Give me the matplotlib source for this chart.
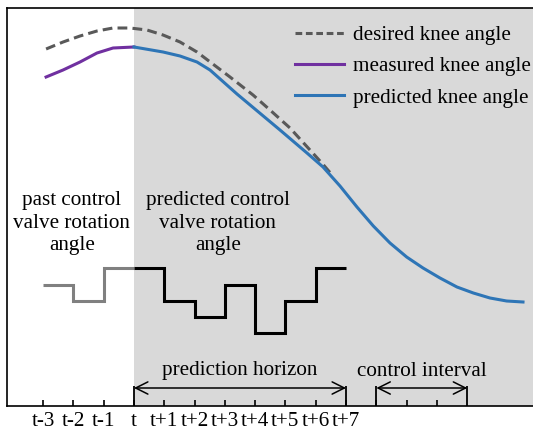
import matplotlib.pyplot as plt
from matplotlib.lines import Line2D

plt.rcParams["font.family"] = ["Liberation Serif", "DejaVu Serif"]

# time axis in sample steps, t = 0
step_labels = ["t-3", "t-2", "t-1", "t", "t+1", "t+2", "t+3",
               "t+4", "t+5", "t+6", "t+7"]
label_steps = list(range(-3, 8))
extra_steps = [8, 9, 10]

# knee angles (arbitrary height units above the time axis)
desired_x = [-2.90, -2.34, -1.78, -1.22, -0.69, -0.13, 0.43, 0.96, 1.52,
             2.08, 3.17, 3.93, 4.49, 5.15, 5.81, 6.20, 6.57]
desired_y = [357, 364, 370, 375, 378, 378, 376, 371, 364,
             354, 329, 311, 296, 278, 256, 243, 230]

measured_x = [-2.90, -2.34, -1.78, -1.22, -0.69, 0.0]
measured_y = [329, 336, 344, 353, 358, 359]

predicted_x = [0.0, 0.96, 1.52, 2.08, 2.51, 3.40, 4.82, 5.71, 6.24,
               6.80, 7.36, 7.90, 8.45, 9.00, 9.54, 10.10, 10.66,
               11.20, 11.75, 12.30, 12.84]
predicted_y = [359, 354, 350, 344, 336, 312, 276, 253, 239,
               220, 199, 180, 163, 149, 138, 128, 119,
               113, 108, 105, 104]

# valve rotation angle, one value per step
past_edges = [-3, -2, -1, 0]
past_valve = [121, 105, 138]
pred_edges = [0, 1, 2, 3, 4, 5, 6, 7]
pred_valve = [138, 105, 89, 121, 73, 105, 138]

horizon = (0, 7)
control = (8, 11)

fig = plt.figure(figsize=(5.33, 4.32), dpi=100)
ax = fig.add_axes([7 / 533, 26 / 432, 526 / 533, 398 / 432])
ax.set_xlim(-4.19, 13.17)
ax.set_ylim(0, 398)

ax.axvspan(0, 14, color="#D9D9D9", zorder=0, lw=0)

lw = 2.2
ax.plot(desired_x, desired_y, color="#595959", lw=lw, dashes=(3.2, 1.7),
        zorder=2)
ax.plot(measured_x, measured_y, color="#7030A0", lw=lw, zorder=3)
ax.plot(predicted_x, predicted_y, color="#2E75B6", lw=lw, zorder=3)

ax.stairs(past_valve, past_edges, baseline=None, color="#808080", lw=lw)
ax.stairs(pred_valve, pred_edges, baseline=None, color="black", lw=lw)

fs = 15.2
ax.text(-2.05, 183, "past control\nvalve rotation\nangle", ha="center",
        va="center", fontsize=fs, linespacing=1.27)
ax.text(2.77, 183, "predicted control\nvalve rotation\nangle", ha="center",
        va="center", fontsize=fs, linespacing=1.27)

# horizon / interval brackets
for a, b, txt in [(horizon[0], horizon[1], "prediction horizon"),
                  (control[0], control[1], "control interval")]:
    ax.vlines([a, b], 0, 20, color="black", lw=1.3)
    ax.annotate("", xy=(a, 18), xytext=(b, 18),
                arrowprops=dict(arrowstyle="<->", color="black", lw=1.1,
                                mutation_scale=22, shrinkA=0, shrinkB=0))
    ax.text((a + b) / 2, 35, txt, ha="center", va="center", fontsize=fs)

ax.set_xticks(label_steps, step_labels)
ax.set_xticks(extra_steps, minor=True)
ax.tick_params(axis="x", which="both", direction="in", length=4, width=1.2,
               labelsize=fs, pad=4)
ax.set_yticks([])
ax.spines["right"].set_visible(False)
for s in ["left", "top", "bottom"]:
    ax.spines[s].set_linewidth(1.2)

handles = [
    Line2D([], [], color="#595959", lw=lw, dashes=(2.2, 1.2)),
    Line2D([], [], color="#7030A0", lw=lw),
    Line2D([], [], color="#2E75B6", lw=lw),
]
names = ["desired knee angle", "measured knee angle", "predicted knee angle"]
ax.legend(handles, names, loc="upper left", bbox_to_anchor=(0.5475, 0.957),
          frameon=False, fontsize=fs, handlelength=2.3, handletextpad=0.45,
          labelspacing=0.55, borderpad=0, borderaxespad=0)

fig.savefig("out.png", dpi=100)
